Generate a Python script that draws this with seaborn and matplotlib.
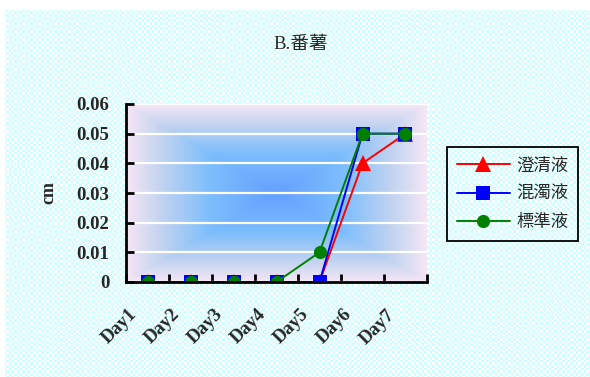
import numpy as np
import pandas as pd
import matplotlib
matplotlib.use("Agg")
import matplotlib.pyplot as plt
from matplotlib.colors import LinearSegmentedColormap
from matplotlib.transforms import ScaledTranslation
import seaborn as sns

# ---- data ----
days = ["Day1", "Day2", "Day3", "Day4", "Day5", "Day6", "Day7"]
series_names = ["澄清液", "混濁液", "標準液"]
clear_vals = [0, 0, 0, 0, 0, 0.04, 0.05]
turbid_vals = [0, 0, 0, 0, 0, 0.05, 0.05]
standard_vals = [0, 0, 0, 0, 0.01, 0.05, 0.05]
y_ticks = [0, 0.01, 0.02, 0.03, 0.04, 0.05, 0.06]
y_tick_labels = ["0", "0.01", "0.02", "0.03", "0.04", "0.05", "0.06"]
title_text = "B.番薯"
y_label = "cm"

colors = {"澄清液": "#ff0000", "混濁液": "#0000ff", "標準液": "#008000"}
markers = {"澄清液": "^", "混濁液": "s", "標準液": "o"}

df = pd.DataFrame({
    "day": days * 3,
    "pos": list(range(len(days))) * 3,
    "series": [s for s in series_names for _ in days],
    "value": clear_vals + turbid_vals + standard_vals,
})

sns.set_theme(style="white")
serif_cjk = ["Liberation Serif", "Noto Sans CJK TC"]
cjk = ["Noto Sans CJK TC", "DejaVu Sans"]
plt.rcParams["font.family"] = serif_cjk

W, H, DPI = 590, 377, 100
fig = plt.figure(figsize=(W / DPI, H / DPI), dpi=DPI)

# checkered cyan chart-area fill with a thin white margin
yy, xx = np.mgrid[0:H, 0:W]
cell = 2.7
chk = ((np.floor(xx / cell) + np.floor(yy / cell)) % 2).astype(bool)
bg = np.ones((H, W, 3))
cyan = np.array([204, 255, 255]) / 255.0
bg[chk] = cyan
bg[(yy < 10) | (xx < 5)] = 1.0
fig.figimage(bg, xo=0, yo=0, origin="upper", zorder=-10)
fig.patch.set_alpha(0)

left, right, top, bottom = 126, 427, 104, 282
ax = fig.add_axes([left / W, 1 - bottom / H, (right - left) / W, (bottom - top) / H])
ax.patch.set_alpha(0)

# rectangular "from centre" gradient for the plot area
gy, gx = np.mgrid[-1:1:300j, -1:1:400j]
t = np.maximum(np.abs(gx), np.abs(gy))
grad_cmap = LinearSegmentedColormap.from_list(
    "plotfill",
    [(0.0, (100 / 255, 160 / 255, 255 / 255)),
     (0.45, (125 / 255, 190 / 255, 252 / 255)),
     (0.75, (190 / 255, 210 / 255, 240 / 255)),
     (1.0, (245 / 255, 230 / 255, 245 / 255))])
ax.imshow(t, cmap=grad_cmap, vmin=0, vmax=1, extent=[0, 1, 0, 1],
          transform=ax.transAxes, aspect="auto", zorder=0.1,
          interpolation="bilinear")

sns.lineplot(data=df, x="pos", y="value", hue="series", style="series",
             hue_order=series_names, style_order=series_names,
             palette=colors, markers=markers, dashes=False,
             markersize=9.5, markeredgewidth=0, linewidth=1.4,
             legend=False, ax=ax, zorder=3)
for ln in ax.lines:
    if ln.get_marker() == "^":
        ln.set_markersize(11)

ax.set_xlim(-0.5, len(days) - 0.5)
ax.set_ylim(0, 0.06)
ax.set_yticks(y_ticks)
ax.set_yticklabels(y_tick_labels)
ax.set_xticks(range(len(days)))
ax.set_xticklabels(days)
ax.set_xticks(np.arange(-0.5, len(days), 1.0), minor=True)
ax.set_xlabel("")
ax.set_ylabel(y_label, fontsize=13, fontweight="bold", labelpad=14)

ax.grid(axis="y", color="white", linewidth=1.6, zorder=0.5)
ax.grid(axis="x", visible=False)
ax.set_axisbelow(True)

for side in ["top", "right"]:
    ax.spines[side].set_visible(False)
for side in ["left", "bottom"]:
    ax.spines[side].set_color("black")
    ax.spines[side].set_linewidth(2)
    ax.spines[side].set_zorder(4)

ax.tick_params(axis="y", direction="in", length=6, width=2, color="black",
               labelsize=13.5, pad=12, left=True)
ax.tick_params(axis="x", which="major", length=0, labelsize=13.5, pad=0)
ax.tick_params(axis="x", which="minor", direction="in", length=6, width=2,
               color="black", bottom=True)
for lab in ax.get_yticklabels():
    lab.set_fontweight("bold")

for lab in ax.get_xticklabels():
    lab.set_fontweight("bold")
    lab.set_rotation(45)
    lab.set_ha("right")
    lab.set_va("center")
    lab.set_rotation_mode("anchor")
    lab.set_transform(lab.get_transform() +
                      ScaledTranslation(-13 / DPI, -30 / DPI, fig.dpi_scale_trans))

fig.text(301 / W, 1 - 45 / H, title_text, ha="center", va="center",
         fontsize=13.5, family=serif_cjk)

leg = ax.legend(ax.lines, series_names, loc="upper left",
                bbox_to_anchor=(447 / W, 1 - 147 / H),
                bbox_transform=fig.transFigure,
                prop={"family": cjk, "size": 12.5},
                frameon=True, fancybox=False, framealpha=1,
                handlelength=3.1, handletextpad=0.35, labelspacing=0.6,
                borderpad=0.55, borderaxespad=0)
leg.get_frame().set_facecolor("none")
leg.get_frame().set_edgecolor("black")
leg.get_frame().set_linewidth(1.3)

fig.savefig("out.png", dpi=DPI)
